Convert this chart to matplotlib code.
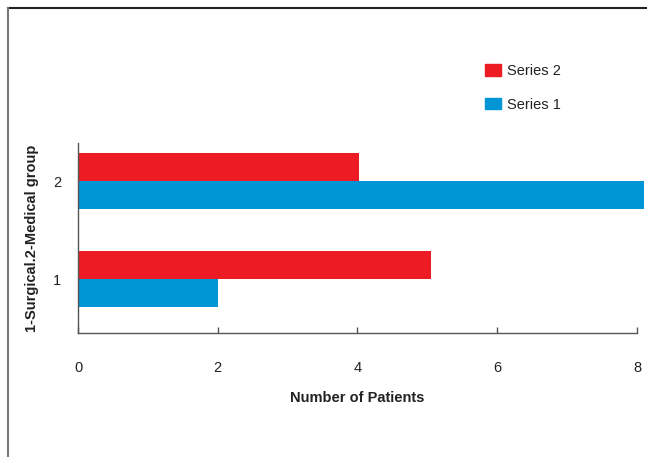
import numpy as np
import matplotlib
matplotlib.use('Agg')
import matplotlib.pyplot as plt
from matplotlib.lines import Line2D
from matplotlib.patches import Patch

plt.rcParams['font.family'] = ['Liberation Sans', 'DejaVu Sans']

# group codes: 1 = surgical, 2 = medical
groups = [1, 2]
series1 = [2, 8.1]
series2 = [5.05, 4.02]
x_ticks = [0, 2, 4, 6, 8]

red = '#ED1C24'
blue = '#0096D6'
bar_h = 0.286

fig = plt.figure(figsize=(6.47, 4.57), dpi=100)
ax = fig.add_axes([0.1206, 0.2713, 0.8639, 0.4158])

y = np.array(groups, dtype=float)
ax.barh(y - bar_h / 2, series1, height=bar_h, color=blue, label='Series 1', clip_on=False)
ax.barh(y + bar_h / 2, series2, height=bar_h, color=red, label='Series 2', clip_on=False)

ax.set_xlim(0, 8)
ax.set_ylim(0.449, 2.388)
ax.set_xticks(x_ticks)
ax.set_yticks(groups)
ax.set_yticklabels([str(g) for g in groups])

for side in ['top', 'right']:
    ax.spines[side].set_visible(False)
for side in ['left', 'bottom']:
    ax.spines[side].set_color('#555555')
    ax.spines[side].set_linewidth(1.0)

ax.tick_params(axis='x', direction='in', length=4, width=1.0, color='#555555',
               labelsize=10.5, pad=20, labelcolor='#222222')
ax.tick_params(axis='y', length=0, labelsize=10.5, pad=12, labelcolor='#222222')

ax.set_xlabel('Number of Patients', fontsize=10.5, fontweight='bold', labelpad=12, color='#222222')
ax.set_ylabel('1-Surgical.2-Medical group', fontsize=10.5, fontweight='bold', labelpad=10, color='#222222')

handles = [Patch(color=red), Patch(color=blue)]
fig.legend(handles, ['Series 2', 'Series 1'], loc='upper left', bbox_to_anchor=(0.730, 0.889),
           frameon=False, fontsize=10.5, handlelength=1.05, handleheight=0.85,
           handletextpad=0.4, labelspacing=1.35, labelcolor='#222222')

# outer frame
fig.add_artist(Line2D([7.7 / 647, 646 / 647], [1 - 8 / 457, 1 - 8 / 457],
                      transform=fig.transFigure, color='#222222', lw=1.5))
fig.add_artist(Line2D([7.7 / 647, 7.7 / 647], [1 - 8 / 457, 0],
                      transform=fig.transFigure, color='#777777', lw=1.5))

fig.savefig('out.png', dpi=100)
